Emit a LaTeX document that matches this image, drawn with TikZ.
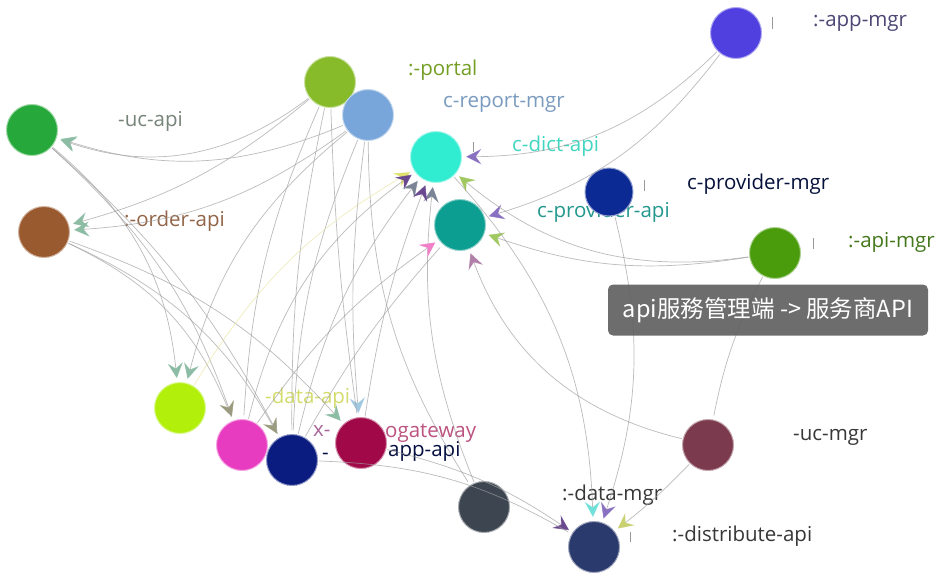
\documentclass[tikz,border=0pt]{standalone}
\usepackage{fontspec}
\newfontfamily\lbl{Open Sans}
\newfontfamily\cjk{Noto Sans CJK SC}
\usetikzlibrary{arrows.meta}

% service node colours
\definecolor{cUcApi}{HTML}{27A83A}
\definecolor{cOrder}{HTML}{9A5A30}
\definecolor{cPortal}{HTML}{88BB2A}
\definecolor{cReport}{HTML}{78A6DA}
\definecolor{cDict}{HTML}{30ECD0}
\definecolor{cProvApi}{HTML}{0C9E90}
\definecolor{cAppMgr}{HTML}{5040E0}
\definecolor{cProvMgr}{HTML}{0C2A94}
\definecolor{cApiMgr}{HTML}{4A9C0C}
\definecolor{cLime}{HTML}{B2F00C}
\definecolor{cPink}{HTML}{E83CC0}
\definecolor{cNavy}{HTML}{0A1C80}
\definecolor{cCrimson}{HTML}{A00848}
\definecolor{cSlate}{HTML}{3C4550}
\definecolor{cUcMgr}{HTML}{7C3A4E}
\definecolor{cDistrib}{HTML}{2A3A6C}
\definecolor{cDataLab}{HTML}{D4DC6C}
% arrow tip colours
\definecolor{aPurple}{HTML}{8A70C0}
\definecolor{aDeep}{HTML}{6A4890}
\definecolor{aGreen}{HTML}{A0C860}
\definecolor{aSage}{HTML}{8CBCA4}
\definecolor{aOlive}{HTML}{9A9A7C}
\definecolor{aYellow}{HTML}{E0E070}
\definecolor{aPink}{HTML}{F080C8}
\definecolor{aMauve}{HTML}{B080A8}
\definecolor{aCyan}{HTML}{70E0D8}
\definecolor{aSky}{HTML}{A0C8E0}
\definecolor{aGray}{HTML}{7A8494}
\definecolor{aLime}{HTML}{C8D070}

\tikzset{
  svc/.style={circle, fill=#1, draw=#1!45, line width=1pt, minimum size=51pt, inner sep=0pt},
  edge/.style={draw=gray!75, line width=0.7pt, draw opacity=0.7, shorten >=4pt, shorten <=1pt},
  arr/.style={-{Stealth[length=11pt,width=11pt,inset=4pt,scale=1.4,color=#1]}},
  lab/.style={anchor=west, inner sep=0pt, text height=10pt, text depth=2pt,
    font=\lbl\fontsize{20.5}{20.5}\selectfont, text=#1},
  tick/.style={draw=gray!80, line width=1pt},
  tooltip/.style={rounded corners=5pt, fill=black!62, fill opacity=0.92, text opacity=1,
    text=white, minimum width=320pt, minimum height=51pt, inner sep=0pt,
    font=\cjk\fontsize{23.5}{23.5}\selectfont}
}

\begin{document}
\begin{tikzpicture}[x=1pt,y=1pt]
\fill[white] (0,0) rectangle (949,-575);
\useasboundingbox (0,0) rectangle (949,-575);

% labels sit beneath the nodes
\node[lab={gray!90!cUcApi}] (lUcApi) at (118,-122) {-uc-api};
\node[lab={cOrder!70!gray}] (lOrder) at (124,-222) {:-order-api};
\node[lab={cPortal!85!black}] (lPortal) at (408,-72) {:-portal};
\node[lab={cReport!70!gray}] (lReport) at (443,-103) {c-report-mgr};
\node[lab={cDict!80!gray}] (lDict) at (512,-147) {c-dict-api};
\node[lab={cProvMgr!40!black}] (lProvMgr) at (687,-185) {c-provider-mgr};
\node[lab={cProvApi!80!gray}] (lProvApi) at (537,-213) {c-provider-api};
\node[lab={cAppMgr!40!gray!70!black}] (lAppMgr) at (813,-23) {:-app-mgr};
\node[lab={cApiMgr!80!gray!80!black}] (lApiMgr) at (848,-243) {:-api-mgr};
\node[lab=cDataLab] (lData) at (265,-399) {-data-api};
\node[lab={cPink!40!gray}] (lGwA) at (313,-432) {x-};
\node[lab={cCrimson!70!white}] (lGwB) at (385,-433) {ogateway};
\node[lab={cNavy!50!black}] (lAppA) at (322,-455) {-};
\node[lab={cNavy!50!black}] (lAppB) at (388,-452) {app-api};
\node[lab={black!78}] (lUcMgr) at (793,-436) {-uc-mgr};
\node[lab={black!78}] (lDataMgr) at (562,-496) {:-data-mgr};
\node[lab={black!78}] (lDistrib) at (672,-537) {:-distribute-api};

% small clipped glyph marks next to some labels
\draw[tick] (772,-17) -- (772,-29);
\draw[tick] (473,-142) -- (473,-152);
\draw[tick] (644,-180) -- (644,-191);
\draw[tick] (813,-238) -- (813,-249);
\draw[tick] (630,-532) -- (630,-542);

% service nodes
\node[svc=cUcApi] (ucapi) at (32,-130) {};
\node[svc=cOrder] (order) at (44,-232) {};
\node[svc=cPortal] (portal) at (330,-82) {};
\node[svc=cReport] (report) at (368,-115) {};
\node[svc=cDict] (dict) at (436,-157) {};
\node[svc=cProvApi] (provapi) at (460,-225) {};
\node[svc=cAppMgr] (appmgr) at (736,-33) {};
\node[svc=cProvMgr, minimum size=48pt] (provmgr) at (609,-192) {};
\node[svc=cApiMgr] (apimgr) at (775,-253) {};
\node[svc=cLime] (lime) at (180,-408) {};
\node[svc=cPink] (pink) at (242,-445) {};
\node[svc=cNavy] (navy) at (292,-460) {};
\node[svc=cCrimson] (crimson) at (361,-443) {};
\node[svc=cSlate] (slate) at (484,-507) {};
\node[svc=cUcMgr] (ucmgr) at (708,-445) {};
\node[svc=cDistrib] (distrib) at (594,-547) {};

% dependency edges: right-hand group
\draw[edge, arr=aPurple] (appmgr) to[bend left=22] (dict);
\draw[edge, arr=aPurple] (appmgr) to[bend left=18] (provapi);
\draw[edge, arr=aGreen] (apimgr) to[bend left=24] (dict);
\draw[edge, arr=aGreen] (apimgr) to[bend left=14] (provapi);
\draw[edge] (apimgr) to[bend right=8] (ucmgr);
\draw[edge, arr=aMauve] (ucmgr) to[bend left=28] (provapi);
\draw[edge, arr=aLime] (ucmgr) to[bend left=4] (distrib);
\draw[edge, arr=aPurple] (provmgr) to[bend left=16] (distrib);
\draw[edge, arr=aCyan] (dict) to[bend left=20] (distrib);
\draw[edge, arr=aDeep] (crimson) to[bend left=10] (distrib);
\draw[edge] (navy) to[bend left=14] (distrib);
\draw[edge] (report) to[bend right=16] (slate);
\draw[edge, arr=aGray] (slate) to[bend left=14] (dict);
% dependency edges: left-hand group
\draw[edge, arr=aSage] (portal) to[bend left=28] (ucapi);
\draw[edge, arr=aSage] (report) to[bend left=20] (ucapi);
\draw[edge, arr=aSage] (portal) to[bend left=12] (order);
\draw[edge, arr=aSage] (report) to[bend left=16] (order);
\draw[edge, arr=aSage] (ucapi) to[bend left=22] (lime);
\draw[edge, arr=aSage] (report) to[bend right=18] (lime);
\draw[edge, arr=aOlive] (ucapi) to[bend left=14] (pink);
\draw[edge] (order) to[bend left=22] (pink);
\draw[edge, arr=aOlive] (order) to[bend left=18] (navy);
\draw[edge] (ucapi) to[bend left=10] (navy);
\draw[edge, arr=aSage] (order) to[bend left=14] (crimson);
\draw[edge] (portal) to[bend right=10] (pink);
\draw[edge] (portal) to[bend right=6] (navy);
\draw[edge] (report) to[bend right=10] (navy);
\draw[edge, arr=aSky] (report) to[bend right=6] (crimson);
\draw[edge] (portal) to[bend right=3] (crimson);
\draw[edge, draw=yellow!60!gray!50, arr=aYellow] (lime) to[bend left=14] (dict);
\draw[edge, arr=aDeep] (pink) to[bend left=20] (dict);
\draw[edge, arr=aGray] (navy) to[bend left=12] (dict);
\draw[edge, arr=aDeep] (crimson) to[bend left=6] (dict);
\draw[edge, arr=aPink] (pink) to[bend left=10] (provapi);
\draw[edge] (navy) to[bend left=6] (provapi);

% hover tooltip
\node[tooltip] (tip) at (768,-310) {api服務管理端 -> 服务商API};
\end{tikzpicture}
\end{document}
